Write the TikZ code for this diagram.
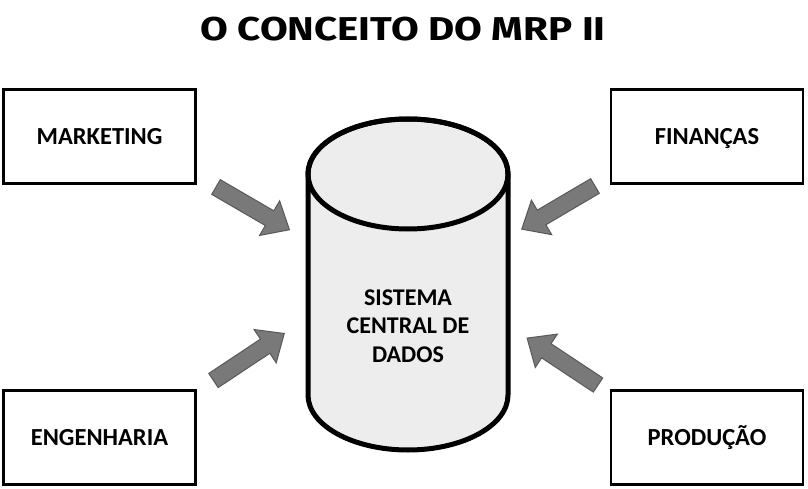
\documentclass[tikz,border=0pt]{standalone}
\usepackage{fontspec}
\setmainfont{Carlito}
\newfontfamily\titlefont{Fira Sans}
\begin{document}
\begin{tikzpicture}[x=1pt,y=-1pt,
  box/.style={draw=black,line width=2.6pt,fill=white,minimum width=192pt,minimum height=94pt,inner sep=0pt,text height=15.8pt,text depth=0pt,font=\fontsize{24.5}{28}\selectfont\bfseries},
  blockarrow/.style={fill=gray!95!black,draw=black!65,line width=1pt,line join=miter}
]
\useasboundingbox (0,0) rectangle (808,489);
\fill[white] (0,0) rectangle (808,489);
% title
\node[font=\titlefont\fontsize{33}{38}\selectfont\bfseries] (title) at (403,29) {\scalebox{1.22}[1]{O CONCEITO DO MRP II}};
% boxes
\node[box] (mkt) at (99.5,136.5) {MARKETING};
\node[box] (fin) at (707,136.5) {FINANÇAS};
\node[box] (eng) at (99.5,437.5) {ENGENHARIA};
\node[box] (prod) at (707,437.5) {PRODUÇÃO};
% cylinder
\coordinate (ctop) at (408,174);
\coordinate (cbot) at (408,395);
\filldraw[fill=black!7,draw=black,line width=5pt]
  (308,174) -- (308,395) arc[start angle=180,end angle=360,x radius=100,y radius=-55] -- (508,174)
  arc[start angle=0,end angle=180,x radius=100,y radius=-55] -- cycle;
\draw[line width=5pt] (ctop) ellipse[x radius=100,y radius=55];
\node[align=center,font=\fontsize{24}{28.5}\selectfont\bfseries] (db) at (408,326) {SISTEMA\\CENTRAL DE\\DADOS};
% arrows
\foreach \tx/\ty/\ang in {216/187/-30.2, 213.5/380.5/33.6, 595/186/-149.5, 598/385/146.5}{
  \begin{scope}[shift={(\tx,\ty)},rotate=\ang]
    \draw[blockarrow] (0,-8.5) -- (62,-8.5) -- (62,-20) -- (85,0) -- (62,20) -- (62,8.5) -- (0,8.5) -- cycle;
  \end{scope}
}
\end{tikzpicture}
\end{document}
